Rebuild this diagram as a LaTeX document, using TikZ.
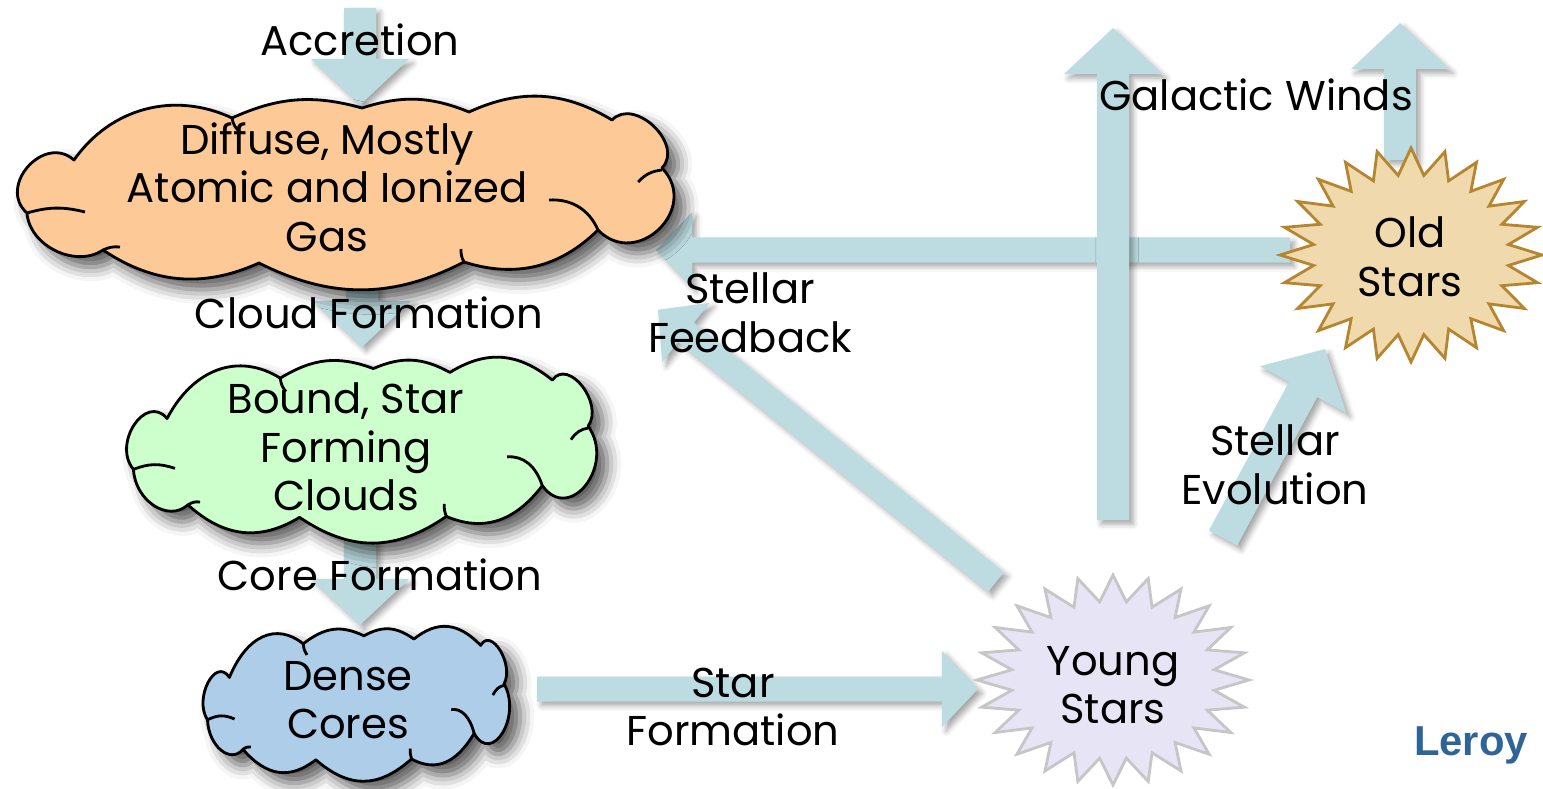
\documentclass[tikz,border=0pt]{standalone}
\usepackage{fontspec}
\setmainfont{Poppins}
\setsansfont{Liberation Sans}
\usetikzlibrary{shadows.blur,calc}

\definecolor{arrowc}{HTML}{BDDCE1}
\definecolor{gasc}{HTML}{FDC996}
\definecolor{boundc}{HTML}{CCFFCC}
\definecolor{densec}{HTML}{AECDE8}
\definecolor{youngc}{HTML}{E7E5F5}
\definecolor{youngd}{HTML}{C6C6C6}
\definecolor{oldc}{HTML}{F0D9AD}
\definecolor{oldd}{HTML}{B5862F}
\definecolor{leroyc}{HTML}{2F6497}

\newcommand\lblfont{\fontsize{11.85}{13.8}\selectfont}

% block arrow from #1 to #2; #3 shaft half width, #4 head half width, #5 head length
\newcommand\blockarrow[5]{%
  \path[arrowshape] let \p1=(#1), \p2=(#2),
    \n1={atan2(\y2-\y1,\x2-\x1)}, \n2={veclen(\x2-\x1,\y2-\y1)} in
    [shift={(\p1)}, rotate=\n1]
    (0pt,-#3) -- ({\n2*1pt-#5},-#3) -- ({\n2*1pt-#5},-#4) -- ({\n2*1pt},0pt)
    -- ({\n2*1pt-#5},#4) -- ({\n2*1pt-#5},#3) -- (0pt,#3) -- cycle;
}
% 24-point star around #1 with radii #2, #3
\newcommand\starpoly[4]{%
  \draw[#4] ($(#1)+(#2,0)$)
    \foreach \i [evaluate=\i as \f using {1-0.25*mod(\i,2)}] in {1,...,47}{
      -- ($(#1)+({\f*#2*cos(\i*7.5)},{\f*#3*sin(\i*7.5)})$) } -- cycle;
}
% PowerPoint-like cloud outline, designed in a 679x193 box at (11,97); #1 transform, #2 fill
\newcommand\cloudshape[2]{%
  \begin{scope}[#1]
  \draw[cloudline, cloudshadow, fill=#2]
    (74,160) to[bend left=40] (232,118) to[bend left=20] (362,108)
    to[bend left=20] (469,112) to[bend left=28] (612,120)
    to[bend left=90, looseness=1.2] (662,168) to[bend left=90, looseness=1.6] (598,230)
    to[bend left=31] (464,262) to[bend left=27] (259,263)
    to[bend left=29] (103,250) to[bend left=60] (27,213)
    to[bend left=90, looseness=1.45] (74,160) -- cycle;
  \draw[cloudline] (549,200) to[bend left=35] (598,230);
  \draw[cloudline] (85,212) to[bend right=15] (27,213);
  \draw[cloudline] (638,182) to[bend left=20] (662,170);
  \draw[cloudline] (232,118) to[bend right=20] (240,132);
  \draw[cloudline] (464,262) to[bend left=15] (461,249);
  \draw[cloudline] (103,250) to[bend left=15] (120,247);
  \end{scope}
}

\begin{document}
\begin{tikzpicture}[x=0.01cm,y=-0.01cm,
  lbl/.style={font=\lblfont, align=center, inner sep=0pt},
  arrowshape/.style={fill=arrowc, blur shadow={shadow xshift=1.2pt, shadow yshift=-1.2pt, shadow blur radius=1.5pt, shadow opacity=35}},
  cloudline/.style={draw=black, line width=0.8pt, line join=round},
  cloudshadow/.style={blur shadow={shadow xshift=3pt, shadow yshift=-3pt, shadow blur radius=4pt, shadow opacity=65}},
  holder/.style={inner sep=0pt, outer sep=0pt},
]
\useasboundingbox (0,0) rectangle (1543,788);

% arrow end points
\coordinate (accA) at (360,8);    \coordinate (accB) at (360,105);
\coordinate (cfA) at (362,250);   \coordinate (cfB) at (362,347);
\coordinate (corA) at (360,500);  \coordinate (corB) at (360,625);
\coordinate (sfA) at (537,689);   \coordinate (sfB) at (978,689);
\coordinate (fbhA) at (1290,250); \coordinate (fbhB) at (656,250);
\coordinate (fbdA) at (996,582);  \coordinate (fbdB) at (657,309);
\coordinate (gwlA) at (1113,520); \coordinate (gwlB) at (1113,28);
\coordinate (gwrA) at (1400,160); \coordinate (gwrB) at (1400,23);
\coordinate (evA) at (1223,538);  \coordinate (evB) at (1325,349);

% arrows
\blockarrow{fbhA}{fbhB}{0.125cm}{0.38cm}{0.36cm}
\blockarrow{gwlA}{gwlB}{0.16cm}{0.49cm}{0.46cm}
\blockarrow{gwrA}{gwrB}{0.16cm}{0.49cm}{0.46cm}
\blockarrow{fbdA}{fbdB}{0.125cm}{0.38cm}{0.36cm}
\blockarrow{sfA}{sfB}{0.125cm}{0.38cm}{0.36cm}
\blockarrow{evA}{evB}{0.16cm}{0.49cm}{0.46cm}
\blockarrow{accA}{accB}{0.16cm}{0.49cm}{0.46cm}
\blockarrow{cfA}{cfB}{0.16cm}{0.49cm}{0.46cm}
\blockarrow{corA}{corB}{0.16cm}{0.49cm}{0.46cm}

% clouds
\cloudshape{shift={(11,97)}, shift={(-11,-97)}}{gasc}
\cloudshape{shift={(122,358)}, xscale=0.716, yscale=0.96, shift={(-11,-97)}}{boundc}
\cloudshape{shift={(200,627)}, xscale=0.467, yscale=0.80, shift={(-11,-97)}}{densec}
\node[holder] (gas) at (350,193) {};
\node[holder] (bound) at (365,450) {};
\node[holder] (dense) at (358,705) {};

% stars
\coordinate (youngpos) at (1113,680);
\coordinate (oldpos) at (1411,255);
\starpoly{youngpos}{136}{105}{fill=youngc, draw=youngd, line width=0.8pt}
\starpoly{oldpos}{131}{107}{fill=oldc, draw=oldd, line width=0.8pt}

% labels
\node[lbl] (acc) at (360,40) {Accretion};
\node[lbl] (gastext) at (327,187) {Diffuse, Mostly\\Atomic and Ionized\\Gas};
\node[lbl] (cftext) at (369,313) {Cloud Formation};
\node[lbl] (boundtext) at (346,447) {Bound, Star\\Forming\\Clouds};
\node[lbl] (cortext) at (380,575) {Core Formation};
\node[lbl] (densetext) at (348,700) {Dense\\Cores};
\node[lbl] (sftext) at (733,707) {Star\\Formation};
\node[lbl] (fbtext) at (750,313) {Stellar\\Feedback};
\node[lbl] (young) at (1113,685) {Young\\Stars};
\node[lbl] (old) at (1410,257) {Old\\Stars};
\node[lbl] (gwtext) at (1256,95) {Galactic Winds};
\node[lbl] (evtext) at (1275,465) {Stellar\\Evolution};
\node[font=\sffamily\bfseries\fontsize{11.9}{14}\selectfont, text=leroyc, inner sep=0pt] (leroy) at (1471,745) {Leroy};
\end{tikzpicture}
\end{document}
